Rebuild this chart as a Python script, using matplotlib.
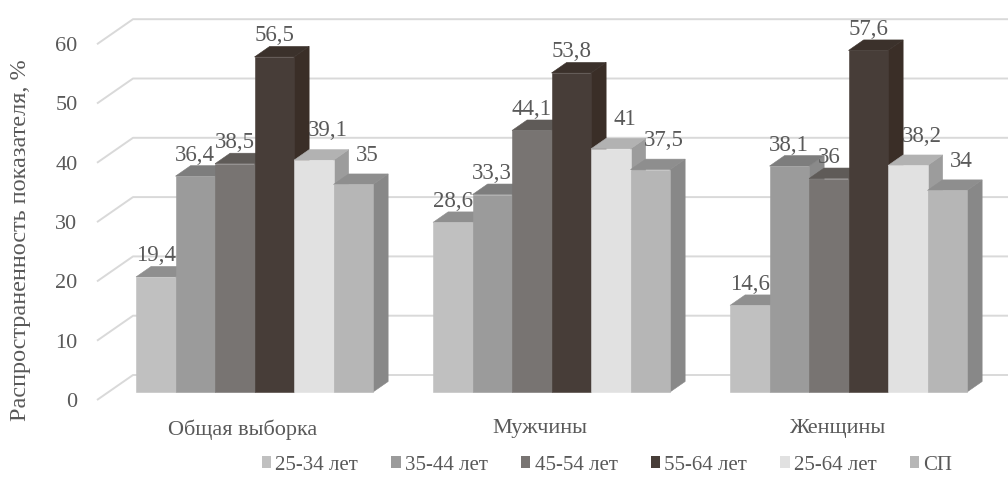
import matplotlib
matplotlib.use("Agg")
import matplotlib.pyplot as plt
from matplotlib.patches import Polygon, Patch

plt.rcParams["font.family"] = ["Liberation Serif", "DejaVu Serif"]

# ---- data -------------------------------------------------------------
groups = ["Общая выборка", "Мужчины", "Женщины"]
series = ["25-34 лет", "35-44 лет", "45-54 лет", "55-64 лет", "25-64 лет", "СП"]
v_25_34 = [19.4, 28.6, 14.6]
v_35_44 = [36.4, 33.3, 38.1]
v_45_54 = [38.5, 44.1, 36.0]
v_55_64 = [56.5, 53.8, 57.6]
v_25_64 = [39.1, 41.0, 38.2]
v_sp = [35.0, 37.5, 34.0]
values = [v_25_34, v_35_44, v_45_54, v_55_64, v_25_64, v_sp]
yticks = [0, 10, 20, 30, 40, 50, 60]

# ---- styling ------------------------------------------------------------
front_c = ["#c0c0c0", "#9b9b9b", "#787472", "#473d38", "#e1e1e1", "#b6b6b6"]
top_c = ["#8f8f8f", "#7d7d7d", "#5f5b58", "#3b312b", "#b2b2b2", "#8e8e8e"]
side_c = ["#a3a3a3", "#8a8a8a", "#6a6562", "#3a2e27", "#9c9c9c", "#888888"]
label_shift_pt = [(0, 0), (0, 0), (0, 0), (0, 0), (10, 6), (10, 6)]
text_c = "#595959"
grid_c = "#d9d9d9"

W, H = 1008, 482
PX_X = 297.0        # pixels per category unit
PX_V = 5.93         # pixels per percent
X0_PX, V0_PX = 243.0, 400.0
KX = 36.0 / PX_X    # oblique depth offset (x) for full wall depth
KV = 25.0 / PX_V    # oblique depth offset (value) for full wall depth
Z_FRONT, Z_BACK = 0.32, 0.74
BAR_W = 39.5 / PX_X
WALL_X = (97.0 - X0_PX) / PX_X

fig = plt.figure(figsize=(W / 100, H / 100), dpi=100)
ax = fig.add_axes([0, 0, 1, 1])
ax.set_xlim(-X0_PX / PX_X, (W - X0_PX) / PX_X)
ax.set_ylim((V0_PX - H) / PX_V, V0_PX / PX_V)
ax.patch.set_visible(False)
for s in ax.spines.values():
    s.set_visible(False)


def proj(x, v, z):
    return (x + z * KX, v + z * KV)


# floor / back wall gridlines
xmax = ax.get_xlim()[1]
for t in yticks:
    p0 = proj(WALL_X, t, 0)
    p1 = proj(WALL_X, t, 1)
    ax.plot([p0[0], p1[0], xmax], [p0[1], p1[1], p1[1]],
            color=grid_c, lw=1.4, zorder=1, solid_capstyle="butt")

# 3D-looking columns, drawn left to right so nearer faces overlap
n = len(series)
for g in range(len(groups)):
    for i in range(n):
        v = values[i][g]
        xl = g + (i - n / 2) * BAR_W
        xr = xl + BAR_W
        side = [proj(xr, 0, Z_FRONT), proj(xr, 0, Z_BACK),
                proj(xr, v, Z_BACK), proj(xr, v, Z_FRONT)]
        top = [proj(xl, v, Z_FRONT), proj(xr, v, Z_FRONT),
               proj(xr, v, Z_BACK), proj(xl, v, Z_BACK)]
        front = [proj(xl, 0, Z_FRONT), proj(xr, 0, Z_FRONT),
                 proj(xr, v, Z_FRONT), proj(xl, v, Z_FRONT)]
        for poly, col in ((side, side_c[i]), (top, top_c[i]), (front, front_c[i])):
            ax.add_patch(Polygon(poly, closed=True, facecolor=col,
                                 edgecolor=col, lw=0.4, zorder=3))
        lx, _ = proj((xl + xr) / 2, v, Z_FRONT)
        _, ly = proj(xl, v, Z_BACK)
        label = f"{v:g}".replace(".", ",")
        ax.annotate(label, xy=(lx, ly), xytext=label_shift_pt[i],
                    textcoords="offset points", ha="center", va="bottom",
                    fontsize=16.5, color=text_c, zorder=10)

# value axis on the front edge of the floor
ax.spines["left"].set_position(("data", WALL_X))
ax.set_yticks(yticks)
ax.tick_params(axis="y", length=0, pad=14, labelsize=16, labelcolor=text_c)
ax.set_ylabel("Распространенность показателя, %", fontsize=17.5, color=text_c)
ax.yaxis.set_label_coords(31 / W, (H - 240) / H)

# category axis
ax.spines["bottom"].set_position(("data", 0))
ax.set_xticks(range(len(groups)), groups)
ax.tick_params(axis="x", length=0, pad=14, labelsize=16, labelcolor=text_c)

handles = [Patch(facecolor=c, edgecolor="none") for c in front_c]
fig.legend(handles, series, loc="center", bbox_to_anchor=(607 / W, (H - 465) / H),
           ncol=6, frameon=False, fontsize=15, labelcolor=text_c,
           handlelength=0.45, handleheight=0.45, handletextpad=0.2,
           columnspacing=1.6)

fig.savefig("out.png", dpi=100)
